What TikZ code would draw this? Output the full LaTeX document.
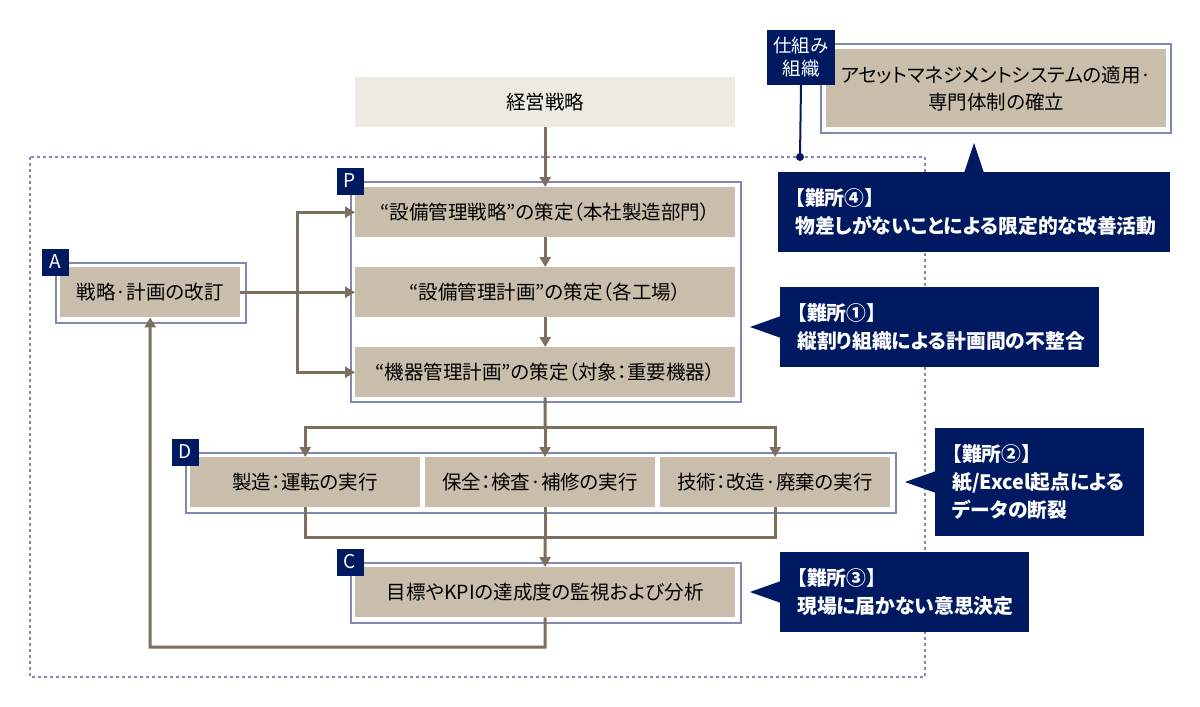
\documentclass[tikz,border=0pt]{standalone}
\usepackage{fontspec}
\setmainfont{Noto Sans CJK JP}[RawFeature=+palt]
\usetikzlibrary{arrows.meta}
\definecolor{navy}{RGB}{0,26,98}
\definecolor{beige}{RGB}{200,190,171}
\definecolor{lightbeige}{RGB}{238,234,227}
\definecolor{framec}{RGB}{127,138,176}
\definecolor{arrowc}{RGB}{125,110,94}
\tikzset{
  box/.style={fill=beige, inner sep=0pt, minimum height=50pt, text=black, anchor=north west, font=\fontsize{19.5pt}{24pt}\selectfont},
  frm/.style={draw=framec, line width=2pt, fill=white, inner sep=0pt, anchor=north west},
  lab/.style={fill=navy, text=white, minimum width=27pt, minimum height=27pt, inner sep=0pt, font=\fontsize{19pt}{20pt}\selectfont},
  arr/.style={draw=arrowc, line width=3pt, -{Triangle[length=10pt,width=11pt]}},
  ln/.style={draw=arrowc, line width=3pt},
  callout/.style={fill=navy, text=white, align=left, anchor=north west, inner xsep=17pt, inner ysep=0pt, font=\bfseries\fontsize{19.8pt}{28pt}\selectfont},
  dotframe/.style={draw=framec, line width=2pt, dash pattern=on 3pt off 3pt},
}
\begin{document}
\begin{tikzpicture}[x=1pt,y=-1pt]
\useasboundingbox[fill=white] (0,0) rectangle (1200,707);
% outer dotted frame
\draw[dotframe] (30,157) rectangle (925,677);
% top
\node[box, fill=lightbeige, minimum width=380pt] (top) at (355,77) {経営戦略};
% frames
\node[frm, minimum width=390pt, minimum height=220pt] (Pf) at (350,181) {};
\node[frm, minimum width=190pt, minimum height=60pt] (Af) at (55,262) {};
\node[frm, minimum width=710pt, minimum height=60pt] (Df) at (185,452) {};
\node[frm, minimum width=390pt, minimum height=60pt] (Cf) at (350,562) {};
% P boxes
\node[box, minimum width=380pt] (b1) at (355,187) {“設備管理戦略”の策定（本社製造部門）};
\node[box, minimum width=380pt] (b2) at (355,267) {“設備管理計画”の策定（各工場）};
\node[box, minimum width=380pt] (b3) at (355,347) {“機器管理計画”の策定（対象：重要機器）};
% A box
\node[box, minimum width=180pt] (Ab) at (60,267) {戦略·計画の改訂};
% D boxes
\node[box, minimum width=230pt] (d1) at (190,457) {製造：運転の実行};
\node[box, minimum width=230pt] (d2) at (425,457) {保全：検査·補修の実行};
\node[box, minimum width=230pt] (d3) at (660,457) {技術：改造·廃棄の実行};
% C box
\node[box, minimum width=380pt] (c) at (355,567) {目標やKPIの達成度の監視および分析};
% labels
\node[lab] (LP) at (Pf.north west) {P};
\node[lab] (LA) at (Af.north west) {A};
\node[lab] (LD) at (Df.north west) {D};
\node[lab] (LC) at (Cf.north west) {C};
% connectors
\draw[arr] (top.south) -- (b1.north);
\draw[arr] (b1.south) -- (b2.north);
\draw[arr] (b2.south) -- (b3.north);
\coordinate (j) at (297,292);
\draw[arr] (Ab.east) -- (b2.west);
\draw[arr] (j) |- (b1.west);
\draw[arr] (j) |- (b3.west);
\coordinate (split) at (545,427);
\draw[ln] (b3.south) -- (split);
\draw[arr] (split) -- (split |- d2.north);
\draw[arr] (split) -| (d1.north);
\draw[arr] (split) -| (d3.north);
\coordinate (merge) at (545,537);
\draw[ln] (d1.south) |- (merge);
\draw[ln] (d3.south) |- (merge);
\draw[ln] (merge |- d2.south) -- (merge);
\draw[arr] (merge) -- (c.north);
\coordinate (ret) at (545,647);
\draw[arr] (c.south) -- (ret) -| (Ab.south);
% system / organisation
\node[frm, minimum width=350pt, minimum height=89pt] (sf) at (820,43) {};
\node[box, minimum width=340pt, minimum height=78pt, align=center, font=\fontsize{19.5pt}{27pt}\selectfont] (sb) at (826,49) {アセットマネジメントシステムの適用·\\専門体制の確立};
\node[lab, minimum width=68pt, minimum height=55pt, align=center, font=\fontsize{18.5pt}{23pt}\selectfont] (sk) at (801,57.5) {仕組み\\組織};
\coordinate (dot) at (800,157);
\draw[navy, line width=2pt] (sk.south) -- (dot);
\fill[navy] (dot) circle (4pt);
% callouts
\node[callout, text width=358pt, minimum height=80pt] (h4) at (778,172) {【難所④】\\物差しがないことによる限定的な改善活動};
\fill[navy] (964,173) -- (974,143) -- (984,173) -- cycle;
\node[callout, text width=285pt, minimum height=80pt] (h1) at (780,287) {【難所①】\\縦割り組織による計画間の不整合};
\fill[navy] (781,316) -- (750,327) -- (781,338) -- cycle;
\node[callout, text width=175pt, minimum height=108pt] (h2) at (935,428) {【難所②】\\紙/Excel起点による\\データの断裂};
\fill[navy] (936,471) -- (905,482) -- (936,493) -- cycle;
\node[callout, text width=215pt, minimum height=80pt] (h3) at (780,552) {【難所③】\\現場に届かない意思決定};
\fill[navy] (781,581) -- (750,592) -- (781,603) -- cycle;
\end{tikzpicture}
\end{document}
